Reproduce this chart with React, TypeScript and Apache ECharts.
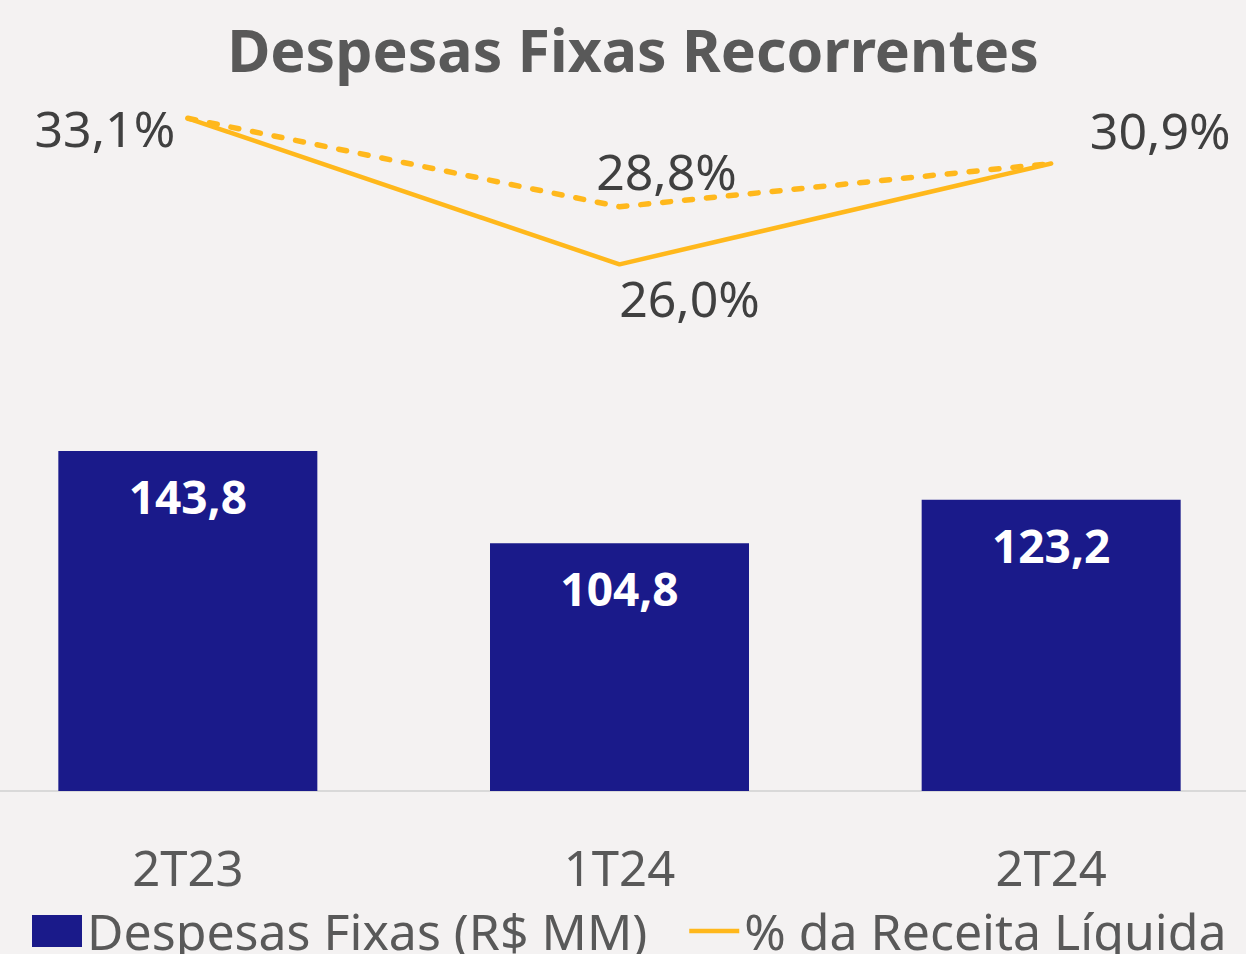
import React, { useEffect, useRef } from "react";
import * as echarts from "echarts";

const categories = ["2T23", "1T24", "2T24"];
const despesas = [143.8, 104.8, 123.2];
const pctReceita = [33.1, 26.0, 30.9];
const pctAjustado = [33.1, 28.8, 30.9];

const barName = "Despesas Fixas (R$ MM)";
const lineName = "% da Receita Líquida";
const FONT = "'Noto Sans', 'Open Sans', sans-serif";

const SHIFT = 28; // container starts 28px left of the window
const W = 1295;

const fmt = (v: number, d = 1) => v.toFixed(d).replace(".", ",");

export default function App() {
  const ref = useRef<HTMLDivElement>(null);
  useEffect(() => {
    if (!ref.current) return;
    const chart = echarts.init(ref.current, null, { renderer: "svg" });
    const solidOffsets: [number, number][] = [
      [-83, 10],
      [70, 34],
      [109, -34],
    ];
    const pctLabel = {
      position: "inside",
      fontFamily: FONT,
      fontSize: 50,
      color: "#404040",
      formatter: (p: any) => fmt(p.value) + "%",
    };
    chart.setOption({
      animation: false,
      backgroundColor: "#F4F2F2",
      title: {
        text: "Despesas Fixas Recorrentes",
        left: 628 + SHIFT,
        textAlign: "center",
        top: 14,
        textStyle: { fontFamily: FONT, fontWeight: "bold", fontSize: 59, color: "#595959" },
      },
      legend: {
        left: 27 + SHIFT,
        top: 901,
        itemWidth: 50,
        itemHeight: 32,
        itemGap: 42,
        textStyle: { fontFamily: FONT, fontSize: 50, lineHeight: 50, color: "#595959" },
        data: [
          { name: barName, icon: "rect" },
          { name: lineName, icon: "path://M0,0H56V5H0Z", itemStyle: { color: "#FFB81C" } },
        ],
      },
      grid: { left: 0, right: 0, top: 0, bottom: 163, containLabel: false },
      xAxis: {
        type: "category",
        data: categories,
        axisLine: { show: true, lineStyle: { color: "#D9D9D9", width: 2 } },
        axisTick: { show: false },
        axisLabel: { fontFamily: FONT, fontSize: 49, color: "#595959", margin: 51 },
      },
      yAxis: [
        { type: "value", min: 0, max: 334.5, show: false, splitLine: { show: false } },
        { type: "value", min: 0.4, max: 38.85, show: false, splitLine: { show: false } },
      ],
      series: [
        {
          name: barName,
          type: "bar",
          data: despesas,
          barWidth: 259,
          itemStyle: { color: "#1A1A8A" },
          label: {
            show: true,
            position: "insideTop",
            distance: 22,
            fontFamily: FONT,
            fontWeight: "bold",
            fontSize: 46,
            color: "#FFFFFF",
            formatter: (p: any) => fmt(p.value),
          },
        },
        {
          name: "% Ajustado",
          type: "line",
          yAxisIndex: 1,
          data: pctAjustado.map((v, i) => ({
            value: v,
            label: i === 1 ? { ...pctLabel, show: true, offset: [47, -36] } : { show: false },
          })),
          symbol: "circle",
          symbolSize: 0.1,
          itemStyle: { color: "rgba(0,0,0,0)" },
          lineStyle: { color: "#FFB81C", width: 5.5, type: [8, 14], cap: "round" },
          z: 3,
        },
        {
          name: lineName,
          type: "line",
          yAxisIndex: 1,
          data: pctReceita.map((v, i) => ({
            value: v,
            label: { ...pctLabel, show: true, offset: solidOffsets[i] },
          })),
          symbol: "circle",
          symbolSize: 0.1,
          itemStyle: { color: "#FFB81C" },
          lineStyle: { color: "#FFB81C", width: 4.5, cap: "round" },
          z: 4,
        },
      ],
    });
    return () => chart.dispose();
  }, []);
  return (
    <div
      ref={ref}
      style={{ position: "fixed", left: -SHIFT, top: 0, width: W, height: 954 }}
    />
  );
}
